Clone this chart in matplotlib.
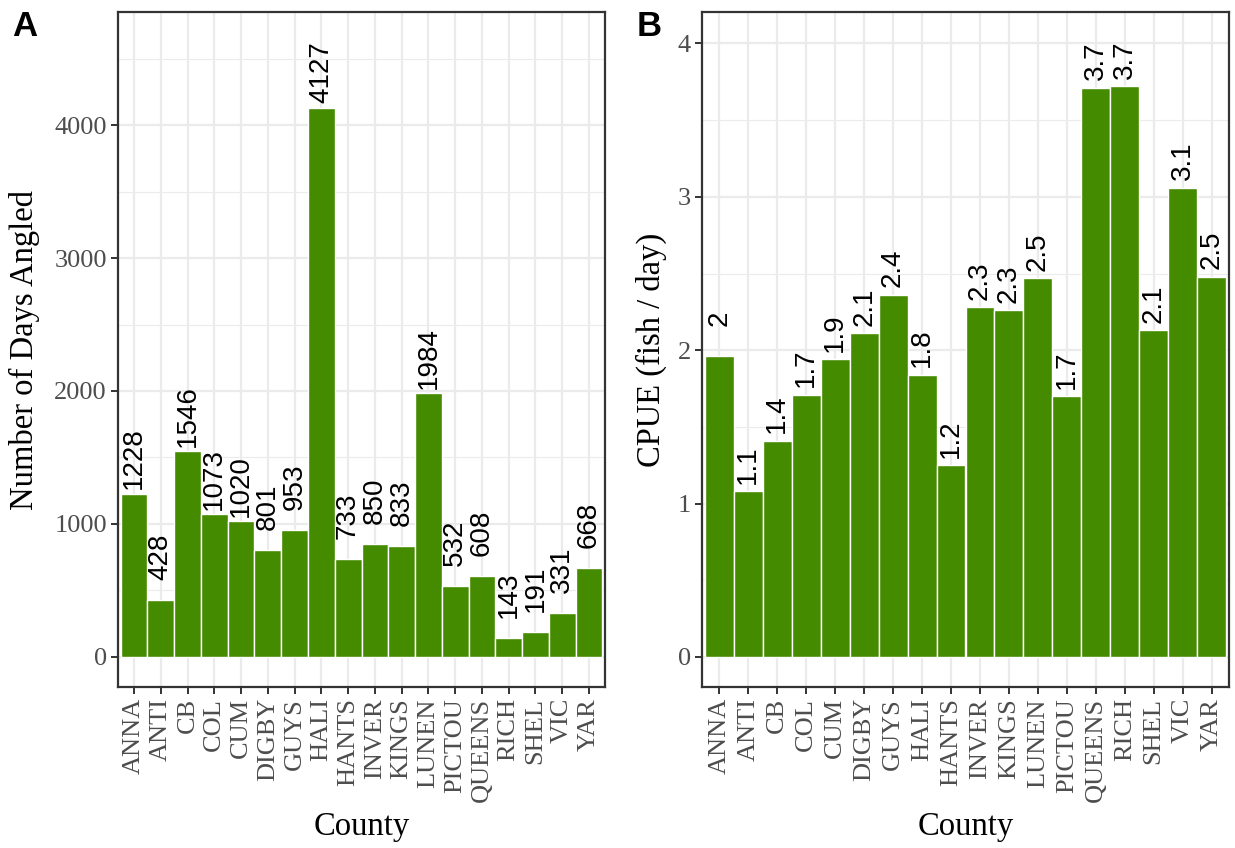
import matplotlib
matplotlib.use("Agg")
import matplotlib.pyplot as plt
import numpy as np

counties = ["ANNA", "ANTI", "CB", "COL", "CUM", "DIGBY", "GUYS", "HALI", "HANTS",
            "INVER", "KINGS", "LUNEN", "PICTOU", "QUEENS", "RICH", "SHEL", "VIC", "YAR"]
days_angled = [1228, 428, 1546, 1073, 1020, 801, 953, 4127, 733,
               850, 833, 1984, 532, 608, 143, 191, 331, 668]
cpue = [1.96, 1.08, 1.41, 1.71, 1.94, 2.11, 2.36, 1.84, 1.25,
        2.28, 2.26, 2.47, 1.70, 3.71, 3.72, 2.13, 3.06, 2.48]

# label nudges (text end placed this far above bar top, like ggplot hjust=1 + nudge_y)
NUDGE_A = 500
NUDGE_B = 0.3

BAR = "#458B00"
W, H = 1235, 848
fig = plt.figure(figsize=(W / 100, H / 100), dpi=100)
SERIF = "Liberation Serif"
SANS = "Liberation Sans"
TICK_FS = 19
TITLE_FS = 23.5
LAB_FS = 20


def px_axes(l, r, t, b):
    return fig.add_axes([l / W, (H - b) / H, (r - l) / W, (b - t) / H])


def style(ax, ylim, major, minor, ylabel, ylab_x):
    n = len(counties)
    x = np.arange(1, n + 1)
    ax.set_xlim(0.4, n + 0.6)
    ax.set_ylim(*ylim)
    ax.set_yticks(major)
    ax.set_yticks(minor, minor=True)
    ax.set_xticks(x)
    ax.set_xticklabels(counties, rotation=90, family=SERIF, fontsize=TICK_FS, color="#4D4D4D")
    for lab in ax.get_yticklabels():
        lab.set_family(SERIF)
        lab.set_fontsize(TICK_FS)
        lab.set_color("#4D4D4D")
    ax.grid(True, which="major", color="#EBEBEB", linewidth=1.6, zorder=0)
    ax.grid(True, which="minor", axis="y", color="#EBEBEB", linewidth=0.8, zorder=0)
    ax.set_axisbelow(True)
    ax.tick_params(which="major", length=5, width=1.4, color="#333333", pad=3)
    ax.tick_params(which="minor", length=0)
    for sp in ax.spines.values():
        sp.set_color("#333333")
        sp.set_linewidth(1.6)
    ax.set_xlabel("County", family=SERIF, fontsize=TITLE_FS, va="center")
    ax.xaxis.set_label_coords(0.5, -0.207)
    ax.set_ylabel(ylabel, family=SERIF, fontsize=TITLE_FS, va="center")
    ax.yaxis.set_label_coords(ylab_x, 0.5)
    return x


# Panel A
axA = px_axes(118, 605, 12, 687)
x = style(axA, (-226, 4850), [0, 1000, 2000, 3000, 4000],
          [500, 1500, 2500, 3500, 4500], "Number of Days Angled", (24 - 118) / 487)
axA.bar(x, days_angled, width=1.0, color=BAR, edgecolor="white", linewidth=1.0, zorder=2)
for xi, v in zip(x, days_angled):
    axA.text(xi, v + NUDGE_A, f"{v}", rotation=90, ha="center", va="top",
             family=SANS, fontsize=LAB_FS, zorder=3)

# Panel B
axB = px_axes(702, 1229, 12, 687)
x = style(axB, (-0.196, 4.205), [0, 1, 2, 3, 4],
          [0.5, 1.5, 2.5, 3.5], "CPUE (fish / day)", (651 - 702) / 527)
axB.bar(x, cpue, width=1.0, color=BAR, edgecolor="white", linewidth=1.0, zorder=2)
for xi, v in zip(x, cpue):
    axB.text(xi, v + NUDGE_B, f"{round(v, 1):g}", rotation=90, ha="center", va="top",
             family=SANS, fontsize=LAB_FS, zorder=3)

fig.text(12 / W, 1 - 36 / H, "A", family=SANS, fontweight="bold", fontsize=25)
fig.text(637 / W, 1 - 36 / H, "B", family=SANS, fontweight="bold", fontsize=25)

fig.savefig("out.png", dpi=100)
